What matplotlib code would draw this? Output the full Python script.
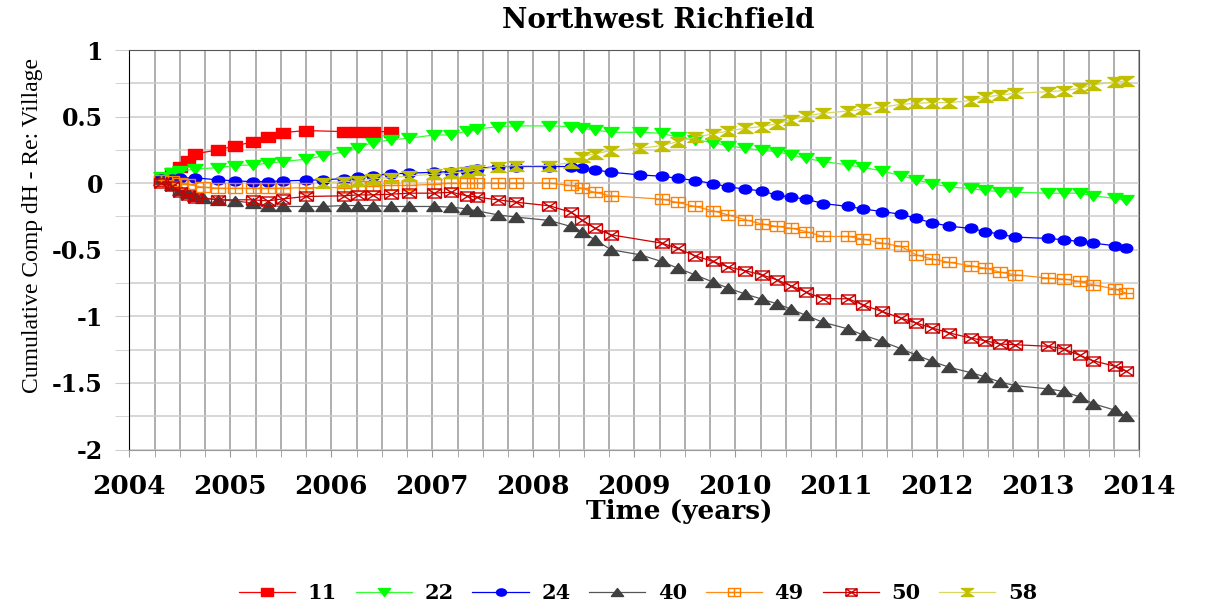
import numpy as np
import matplotlib
matplotlib.use('Agg')
import matplotlib.pyplot as plt
from matplotlib.path import Path
from matplotlib.transforms import Affine2D

# survey dates (decimal years) shared by all benchmarks
dates = [2004.31, 2004.42, 2004.50, 2004.58, 2004.65, 2004.73, 2004.88,
         2005.05, 2005.22, 2005.37, 2005.52, 2005.75, 2005.92,
         2006.13, 2006.26, 2006.41, 2006.59, 2006.77,
         2007.02, 2007.19, 2007.34, 2007.44, 2007.65, 2007.83,
         2008.16, 2008.37, 2008.48, 2008.61, 2008.77,
         2009.06, 2009.27, 2009.43, 2009.60, 2009.78, 2009.93,
         2010.10, 2010.26, 2010.41, 2010.55, 2010.70, 2010.87,
         2011.12, 2011.26, 2011.45, 2011.64, 2011.79, 2011.95,
         2012.12, 2012.33, 2012.47, 2012.62, 2012.77,
         2013.10, 2013.25, 2013.41, 2013.54, 2013.76, 2013.87]

nan = np.nan
bm11 = [0.02, 0.075, 0.125, 0.167, 0.22, nan, 0.25,
        0.28, 0.31, 0.345, 0.38, 0.395, nan,
        0.387, 0.387, 0.387, 0.387] + [nan] * 41
bm22 = [0.05, 0.08, 0.092, nan, 0.105, nan, 0.117,
        0.132, 0.137, 0.15, 0.162, 0.18, 0.205,
        0.237, 0.267, 0.305, 0.325, 0.338,
        0.362, 0.362, 0.392, 0.405, 0.425, 0.43,
        0.43, 0.425, 0.412, 0.4, 0.382,
        0.382, 0.375, 0.345, 0.325, 0.305, 0.28,
        0.262, 0.247, 0.237, 0.212, 0.187, 0.162,
        0.137, 0.12, 0.092, 0.057, 0.025, -0.003,
        -0.03, -0.04, -0.055, -0.063, -0.068,
        -0.075, -0.075, -0.075, -0.095, -0.115, -0.13]
bm24 = [0.03, 0.035, 0.04, nan, 0.04, nan, 0.025,
        0.017, 0.012, 0.012, 0.017, 0.022, 0.025,
        0.035, 0.045, 0.057, 0.07, 0.075,
        0.082, 0.087, 0.095, 0.11, 0.125, 0.125,
        0.125, 0.125, 0.112, 0.1, 0.082,
        0.062, 0.052, 0.037, 0.02, -0.003, -0.028,
        -0.045, -0.058, -0.09, -0.105, -0.12, -0.153,
        -0.175, -0.193, -0.213, -0.233, -0.265, -0.298,
        -0.323, -0.34, -0.363, -0.383, -0.405,
        -0.415, -0.425, -0.438, -0.45, -0.47, -0.488]
bm40 = [0.025, -0.013, -0.05, -0.075, -0.10, -0.11, -0.125,
        -0.133, -0.15, -0.168, -0.175, -0.175, -0.175,
        -0.168, -0.168, -0.168, -0.175, -0.175,
        -0.175, -0.18, -0.193, -0.208, -0.238, -0.255,
        -0.28, -0.325, -0.363, -0.425, -0.5,
        -0.538, -0.588, -0.638, -0.688, -0.743, -0.788,
        -0.833, -0.87, -0.905, -0.945, -0.993, -1.045,
        -1.095, -1.138, -1.188, -1.243, -1.29, -1.338,
        -1.383, -1.423, -1.453, -1.493, -1.52,
        -1.545, -1.563, -1.605, -1.655, -1.705, -1.75]
bm49 = [0.025, 0.017, 0.005, -0.01, nan, -0.03, -0.038,
        -0.038, -0.038, -0.038, -0.038, -0.033, nan,
        -0.033, -0.025, -0.02, -0.017, -0.017,
        -0.008, 0.0, 0.0, 0.0, 0.0, 0.0,
        0.0, -0.017, -0.038, -0.07, -0.095,
        nan, -0.12, -0.145, -0.175, -0.208, -0.238,
        -0.275, -0.305, -0.325, -0.338, -0.363, -0.4,
        -0.4, -0.42, -0.45, -0.475, -0.538, -0.57,
        -0.595, -0.62, -0.638, -0.668, -0.688,
        -0.713, -0.72, -0.738, -0.763, -0.795, -0.825]
bm50 = [0.0, -0.025, -0.063, -0.088, -0.108, nan, -0.125,
        nan, -0.125, -0.133, -0.118, -0.1, nan,
        -0.095, -0.088, -0.088, -0.083, -0.075,
        -0.075, -0.068, -0.095, -0.105, -0.125, -0.143,
        -0.17, -0.218, -0.275, -0.338, -0.388,
        nan, -0.45, -0.49, -0.545, -0.588, -0.63,
        -0.658, -0.688, -0.725, -0.77, -0.818, -0.868,
        -0.868, -0.913, -0.963, -1.013, -1.05, -1.088,
        -1.125, -1.163, -1.183, -1.208, -1.213,
        -1.225, -1.245, -1.293, -1.333, -1.375, -1.413]
bm58 = [nan] * 12 + [0.005,
        0.012, 0.017, 0.032, 0.042, 0.055,
        0.067, 0.075, 0.087, 0.1, 0.125, 0.132,
        0.132, 0.155, 0.2, 0.22, 0.245,
        0.262, 0.282, 0.312, 0.345, 0.37, 0.392,
        0.412, 0.425, 0.445, 0.475, 0.505, 0.525,
        0.542, 0.555, 0.57, 0.592, 0.6, 0.605,
        0.605, 0.62, 0.645, 0.662, 0.675,
        0.687, 0.695, 0.712, 0.737, 0.762, 0.767]

names = ['11', '22', '24', '40', '49', '50', '58']
year_ticks = list(range(2004, 2015))
y_ticks = [1, 0.5, 0, -0.5, -1, -1.5, -2]
y_ticklabels = ['1', '0.5', '0', '-0.5', '-1', '-1.5', '-2']

# --- marker shapes (wider than tall, like the original) ---
M, L, C = Path.MOVETO, Path.LINETO, Path.CLOSEPOLY
h = 0.65
sq_path = Path([(-1, -h), (1, -h), (1, h), (-1, h), (-1, -h)], [M, L, L, L, C])
tri_dn = Path([(-1, h), (1, h), (0, -h), (-1, h)], [M, L, L, C])
tri_up = Path([(-1, -h), (1, -h), (0, h), (-1, -h)], [M, L, L, C])
ell = Path.unit_circle().transformed(Affine2D().scale(1, 0.72))
box_plus = Path([(-1, -h), (1, -h), (1, h), (-1, h), (-1, -h),
                 (-1, 0), (1, 0), (0, -h), (0, h)],
                [M, L, L, L, C, M, L, M, L])
box_x = Path([(-1, -h), (1, -h), (1, h), (-1, h), (-1, -h),
              (-1, -h), (1, h), (-1, h), (1, -h)],
             [M, L, L, L, C, M, L, M, L])
hourglass = Path([(-1, h), (1, h), (-1, -h), (1, -h), (-1, h)], [M, L, L, L, C])

styles = [
    dict(color='#ff0000', marker=sq_path, ms=10, mfc='#ff0000', mec='#ff0000'),
    dict(color='#33ff33', marker=tri_dn, ms=11, mfc='#00ff00', mec='#00ff00'),
    dict(color='#0000ff', marker=ell, ms=9, mfc='#0000ff', mec='#0000ff'),
    dict(color='#555555', marker=tri_up, ms=11, mfc='#404040', mec='#404040'),
    dict(color='#ff8c1a', marker=box_plus, ms=10, mfc='none', mec='#ff8000'),
    dict(color='#cc0000', marker=box_x, ms=10, mfc='none', mec='#cc0000'),
    dict(color='#d8d860', marker=hourglass, ms=11, mfc='#c0c000', mec='#c0c000'),
]

W, H = 1209, 608
fig = plt.figure(figsize=(W / 100, H / 100), dpi=100)
ax = fig.add_axes([129.3 / W, 1 - 449.5 / H, (1139.3 - 129.3) / W, (449.5 - 50) / H])

t = np.array(dates)
for name, vals, st in zip(names, [bm11, bm22, bm24, bm40, bm49, bm50, bm58], styles):
    v = np.array(vals, dtype=float)
    ok = ~np.isnan(v)
    ax.plot(t[ok], v[ok], lw=0.9, mew=1.0, label=name, zorder=3, **st)

ax.set_xlim(2004, 2014)
ax.set_ylim(-2, 1)
ax.set_xticks(year_ticks)
ax.set_xticks(np.arange(2004, 2014.01, 0.25), minor=True)
ax.set_yticks(y_ticks)
ax.set_yticks(np.arange(-2, 1.01, 0.25), minor=True)

bold = dict(family='DejaVu Serif', weight='bold')
ax.set_xticklabels([str(y) for y in year_ticks], fontsize=19, **bold)
ax.set_yticklabels(y_ticklabels, fontsize=17, **bold)

ax.set_axisbelow(True)
ax.grid(which='both', axis='x', color='#999999', lw=1.1)
ax.grid(which='both', axis='y', color='#cccccc', lw=1.1)
ax.tick_params(axis='x', which='both', direction='out', length=5, color='#999999', pad=13)
ax.tick_params(axis='y', which='both', direction='out', length=10, color='#cccccc', pad=9)

ax.spines['left'].set_color('black')
ax.spines['top'].set_color('#555555')
ax.spines['right'].set_color('#555555')
ax.spines['bottom'].set_color('#999999')

fig.text(658 / W, 1 - 20 / H, 'Northwest Richfield', ha='center', va='center',
         fontsize=20, **bold)
fig.text(679 / W, 1 - 511 / H, 'Time (years)', ha='center', va='center',
         fontsize=19, **bold)
fig.text(33 / W, 1 - 225 / H, 'Cumulative Comp dH - Re: Village', rotation=90,
         ha='center', va='center', fontsize=17, family='Liberation Serif')

ax.legend(loc='center', bbox_to_anchor=(638 / W, 1 - 593 / H),
          bbox_transform=fig.transFigure, ncol=7, frameon=False,
          prop=dict(family='DejaVu Serif', weight='bold', size=15),
          handlelength=2.7, handletextpad=0.6, columnspacing=0.9,
          markerscale=0.8)

fig.savefig('out.png', dpi=100)
